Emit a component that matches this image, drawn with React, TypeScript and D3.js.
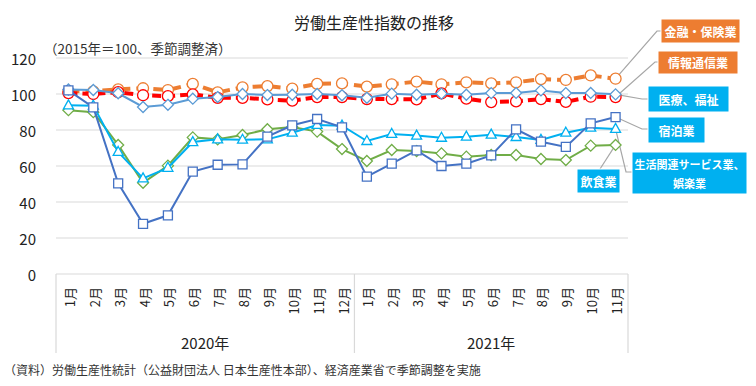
import * as d3 from "d3";
import React from "react";

// categories
const months = [
    "1月", "2月", "3月", "4月", "5月", "6月", "7月", "8月", "9月", "10月", "11月", "12月",
    "1月", "2月", "3月", "4月", "5月", "6月", "7月", "8月", "9月", "10月", "11月",
];
const years = ["2020年", "2021年"];
const monthsPerYear = [12, 11];
const yTicks = [0, 20, 40, 60, 80, 100, 120];

// series values (2015 = 100)
const finance = [101.5, 101.5, 102.6, 103.2, 102.2, 105.6, 100.9, 103.7, 104.4, 103.0, 105.6, 105.9, 104.1, 105.4, 106.9, 105.4, 106.5, 105.9, 106.5, 108.3, 107.8, 110.3, 108.5];
const ict = [100.5, 100.0, 101.0, 99.3, 98.8, 99.8, 97.9, 97.9, 97.0, 96.3, 98.3, 98.3, 97.2, 97.2, 97.0, 100.3, 97.4, 95.5, 95.9, 97.2, 95.6, 98.5, 98.3];
const restaurant = [91.0, 89.9, 71.7, 50.7, 60.2, 75.9, 74.8, 77.2, 80.4, 81.7, 79.1, 69.4, 62.8, 68.9, 68.3, 67.0, 65.2, 66.1, 66.1, 63.9, 63.3, 71.3, 71.7];
const lifestyle = [93.7, 93.5, 67.8, 53.1, 59.0, 73.3, 74.8, 74.6, 74.8, 78.5, 82.8, 82.4, 73.9, 77.8, 76.9, 75.7, 76.3, 77.4, 76.1, 74.5, 78.5, 81.3, 80.6];
const medical = [102.5, 102.2, 100.4, 92.8, 94.0, 97.4, 98.3, 100.0, 99.4, 99.6, 100.0, 99.3, 97.9, 100.2, 99.6, 100.2, 99.6, 100.5, 100.6, 102.0, 100.5, 100.6, 99.8];
const hotel = [102.0, 92.6, 50.4, 27.9, 32.6, 56.9, 60.7, 60.9, 76.3, 82.6, 86.1, 81.5, 54.1, 61.3, 68.7, 60.0, 61.3, 65.9, 80.4, 73.5, 70.6, 83.7, 87.2];

const FONT = "'Noto Sans CJK JP', 'Noto Sans', sans-serif";
const ORANGE = "#ED7D31";
const CYAN = "#00B0F0";

type Marker = "circle" | "diamond" | "square" | "triangle";

interface Series {
    name: string;
    values: number[];
    color: string;
    width: number;
    dash?: string;
    marker: Marker;
}

// draw order: later ones sit on top
const series: Series[] = [
    { name: "金融・保険業", values: finance, color: ORANGE, width: 4, dash: "11,6", marker: "circle" },
    { name: "情報通信業", values: ict, color: "#FF0000", width: 4, dash: "9,5", marker: "circle" },
    { name: "飲食業", values: restaurant, color: "#70AD47", width: 2, marker: "diamond" },
    { name: "生活関連サービス業、娯楽業", values: lifestyle, color: CYAN, width: 2, marker: "triangle" },
    { name: "医療、福祉", values: medical, color: "#5B9BD5", width: 2, marker: "diamond" },
    { name: "宿泊業", values: hotel, color: "#4472C4", width: 2, marker: "square" },
];

// callout boxes: [x, y, w, h], elbow point, box fill
const callouts = [
    { name: "金融・保険業", lines: ["金融・保険業"], box: [661, 19, 79, 24], elbow: [657, 31], fill: ORANGE, size: 12 },
    { name: "情報通信業", lines: ["情報通信業"], box: [658, 51, 80, 23], elbow: [655, 62], fill: ORANGE, size: 12 },
    { name: "医療、福祉", lines: ["医療、福祉"], box: [648, 86, 81, 26], elbow: [642, 99], fill: CYAN, size: 12 },
    { name: "宿泊業", lines: ["宿泊業"], box: [648, 117, 57, 26], elbow: [642, 129], fill: CYAN, size: 12 },
    { name: "生活関連サービス業、娯楽業", lines: ["生活関連サービス業、", "娯楽業"], box: [632, 152, 115, 42], elbow: [626, 172], fill: CYAN, size: 11 },
    { name: "飲食業", lines: ["飲食業"], box: [577, 169, 43, 24], elbow: [600, 169], fill: CYAN, size: 12 },
];

function markerPath(kind: Marker): string {
    if (kind === "circle") return d3.arc()({ innerRadius: 0, outerRadius: 5.5, startAngle: 0, endAngle: 2 * Math.PI }) || "";
    if (kind === "diamond") return "M0,-5.5L5.5,0L0,5.5L-5.5,0Z";
    if (kind === "square") return "M-4.5,-4.5H4.5V4.5H-4.5Z";
    return "M0,-5.5L5,3.5H-5Z";
}

export default function App() {
    const left = 56, right = 628, top = 58, bottom = 274;
    const x = d3.scaleBand<number>().domain(d3.range(months.length)).range([left, right]);
    const y = d3.scaleLinear().domain([0, 120]).range([bottom, top]);
    const cx = (i: number) => (x(i) || 0) + x.bandwidth() / 2;
    const line = d3.line<number>().x((_, i) => cx(i)).y(d => y(d));

    // year groups
    let start = 0;
    const groups = years.map((label, k) => {
        const g = { label, x0: x(start) || 0, x1: (x(start) || 0) + monthsPerYear[k] * x.bandwidth() };
        start += monthsPerYear[k];
        return g;
    });
    const last = months.length - 1;

    return (
        <div style={{ position: "absolute", left: 0, top: 0 }}>
            <svg width={756} height={386} style={{ display: "block", fontFamily: FONT }}>
                <rect width={756} height={386} fill="#fff" />
                <text x={374} y={22} textAnchor="middle" dominantBaseline="central" fontSize={16} fill="#222">労働生産性指数の推移</text>
                <text x={44} y={48} dominantBaseline="central" fontSize={13.5} fill="#333">（2015年＝100、季節調整済）</text>

                {/* grid */}
                {yTicks.map(t => (
                    <g key={t}>
                        <line x1={left} x2={right} y1={y(t)} y2={y(t)} stroke="#d9d9d9" strokeWidth={1.2} />
                        <text x={36} y={y(t)} textAnchor="end" dominantBaseline="central" fontSize={15} fill="#222">{t}</text>
                    </g>
                ))}
                {/* category axis */}
                {[groups[0].x0, groups[0].x1, groups[1].x1].map((gx, k) => (
                    <line key={k} x1={gx} x2={gx} y1={bottom} y2={353} stroke="#d9d9d9" strokeWidth={1.2} />
                ))}
                {months.map((m, i) => (
                    <text key={i} transform={`translate(${cx(i) + 1},287) rotate(-90)`} textAnchor="end" dominantBaseline="central" fontSize={13} fill="#222">{m}</text>
                ))}
                {groups.map(g => (
                    <text key={g.label} x={(g.x0 + g.x1) / 2} y={342} textAnchor="middle" dominantBaseline="central" fontSize={15} fill="#222">{g.label}</text>
                ))}

                {/* leader lines */}
                {callouts.map(c => {
                    const s = series.find(d => d.name === c.name)!;
                    const px = cx(last), py = y(s.values[last]);
                    const [bx, by] = c.box;
                    const end = c.name === "飲食業" ? [c.elbow[0], by] : [bx, c.elbow[1]];
                    return <polyline key={c.name} points={`${px},${py} ${c.elbow[0]},${c.elbow[1]} ${end[0]},${end[1]}`} fill="none" stroke="#a6a6a6" strokeWidth={1.2} />;
                })}

                {/* series */}
                {series.map(s => (
                    <g key={s.name}>
                        <path d={line(s.values) || ""} fill="none" stroke={s.color} strokeWidth={s.width} strokeDasharray={s.dash} />
                        {s.values.map((v, i) => (
                            <path key={i} d={markerPath(s.marker)} transform={`translate(${cx(i)},${y(v)})`} fill="#fff" stroke={s.color} strokeWidth={1.3} />
                        ))}
                    </g>
                ))}

                {/* callout boxes */}
                {callouts.map(c => {
                    const [bx, by, bw, bh] = c.box;
                    const lh = 19;
                    const y0 = by + bh / 2 - ((c.lines.length - 1) * lh) / 2;
                    return (
                        <g key={c.name}>
                            <rect x={bx} y={by} width={bw} height={bh} fill={c.fill} stroke="#fff" strokeWidth={1} />
                            {c.lines.map((t, k) => (
                                <text key={k} x={bx + bw / 2} y={y0 + k * lh} textAnchor="middle" dominantBaseline="central" fontSize={c.size} fontWeight="bold" fill="#fff">{t}</text>
                            ))}
                        </g>
                    );
                })}

                <text x={4} y={369} dominantBaseline="central" fontSize={12} fill="#333">（資料）労働生産性統計（公益財団法人 日本生産性本部）、経済産業省で季節調整を実施</text>
            </svg>
        </div>
    );
}
